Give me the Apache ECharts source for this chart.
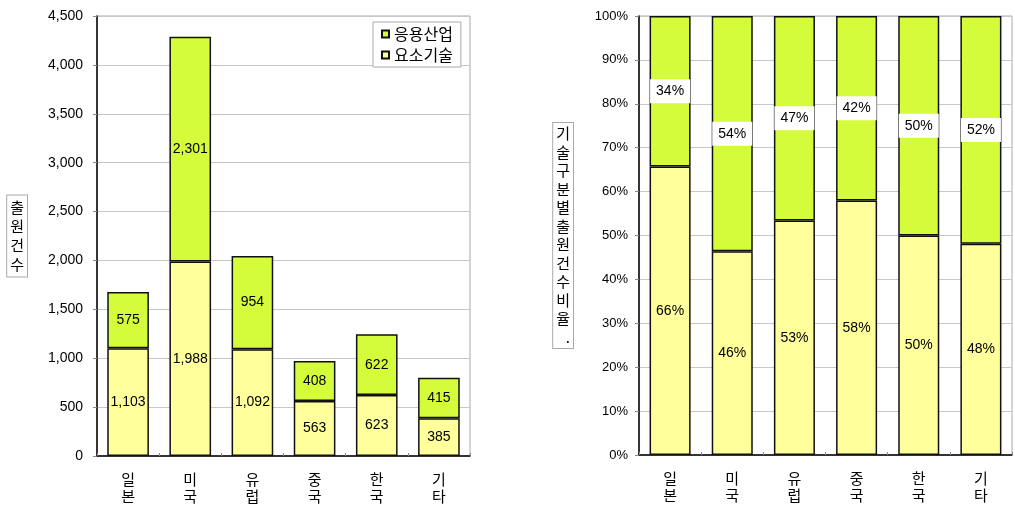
<!DOCTYPE html>
<html><head><meta charset="utf-8">
<script src="https://cdn.jsdelivr.net/npm/echarts@6/dist/echarts.min.js"></script>
<style>html,body{margin:0;padding:0;background:#fff}#c{width:1015px;height:513px}</style>
</head><body><div id="c"></div>
<script>
const categories = ['일본','미국','유럽','중국','한국','기타'];
const seriesNames = ['응용산업','요소기술'];
const elementTech = [1103,1988,1092,563,623,385];
const appIndustry = [575,2301,954,408,622,415];
const elementPct = [65.7,46.4,53.4,58.0,50.0,48.1];
const appPct = [34.3,53.6,46.6,42.0,50.0,51.9];
const countTicks = [0,500,1000,1500,2000,2500,3000,3500,4000,4500];
const pctTicks = [0,10,20,30,40,50,60,70,80,90,100];

const GREEN = '#d4fc3a', YELLOW = '#ffff9c';
const numFont = 'Liberation Sans, Arial, sans-serif';
const krFont = 'Noto Sans CJK KR, sans-serif';

const chart = echarts.init(document.getElementById('c'));
const catAxis = (gi) => ({
  type:'category', gridIndex:gi, data:categories,
  axisLine:{lineStyle:{color:'#000',width:1.5}},
  axisTick:{show:true,length:3,inside:true,lineStyle:{color:'#888'}},
  axisLabel:{formatter:v=>v.split('').join('\n'), fontFamily:krFont, fontSize:15, color:'#000', lineHeight:17, margin:15}
});
const barStyle = c => ({color:c, borderColor:'#111', borderWidth:1.5});
chart.setOption({
  animation:false,
  textStyle:{fontFamily:numFont},
  grid:[
    {left:97,right:545,top:16,bottom:57,show:true,borderColor:'#aaa',borderWidth:1,outerBoundsMode:'none',containLabel:false},
    {left:639,right:3,top:16,bottom:58,show:true,borderColor:'#aaa',borderWidth:1,outerBoundsMode:'none',containLabel:false}
  ],
  legend:{
    data:seriesNames, left:373, top:22, orient:'vertical',
    itemWidth:7, itemHeight:7, itemGap:5, icon:'rect',
    backgroundColor:'#fff', borderColor:'#aaa', borderWidth:1, padding:[4,8,4,8],
    textStyle:{fontFamily:krFont,fontSize:16,color:'#000'}
  },
  xAxis:[catAxis(0),catAxis(1)],
  yAxis:[
    {type:'value',gridIndex:0,min:countTicks[0],max:countTicks[countTicks.length-1],interval:500,
     axisLine:{show:true,lineStyle:{color:'#000',width:1.5}},axisTick:{show:true,length:4,lineStyle:{color:'#888'}},
     splitLine:{lineStyle:{color:'#c8c8c8'}},
     axisLabel:{formatter:v=>v.toLocaleString('en-US'),fontSize:14,color:'#000',margin:14,fontFamily:numFont},
     name:'출원건수'.split('').join('\n'), nameLocation:'middle', nameGap:70, nameRotate:0,
     nameTextStyle:{fontFamily:krFont,fontSize:15,color:'#000',lineHeight:19,backgroundColor:'#fff',borderColor:'#aaa',borderWidth:1,padding:[3,3,2,3]}},
    {type:'value',gridIndex:1,min:pctTicks[0],max:pctTicks[pctTicks.length-1],interval:10,
     axisLine:{show:true,lineStyle:{color:'#000',width:1.5}},axisTick:{show:true,length:4,lineStyle:{color:'#888'}},
     splitLine:{lineStyle:{color:'#c8c8c8'}},
     axisLabel:{formatter:v=>v+'%',fontSize:13,color:'#000',margin:11,fontFamily:numFont},
     name:'기술구분별출원건수비율.'.split('').join('\n'), nameLocation:'middle', nameGap:66, nameRotate:0,
     nameTextStyle:{fontFamily:krFont,fontSize:15,color:'#000',lineHeight:18.5,backgroundColor:'#fff',borderColor:'#aaa',borderWidth:1,padding:[3,3,0,3]}}
  ],
  series:[
    {name:seriesNames[1],type:'bar',stack:'a',xAxisIndex:0,yAxisIndex:0,data:elementTech,barWidth:'67%',
     itemStyle:barStyle(YELLOW),label:{show:true,position:'inside',formatter:p=>p.value.toLocaleString('en-US'),fontSize:14,color:'#000',fontFamily:numFont}},
    {name:seriesNames[0],type:'bar',stack:'a',xAxisIndex:0,yAxisIndex:0,data:appIndustry,barWidth:'67%',
     itemStyle:barStyle(GREEN),label:{show:true,position:'inside',formatter:p=>p.value.toLocaleString('en-US'),fontSize:14,color:'#000',fontFamily:numFont}},
    {name:seriesNames[1],type:'bar',stack:'b',xAxisIndex:1,yAxisIndex:1,data:elementPct,barWidth:'66%',
     itemStyle:barStyle(YELLOW),label:{show:true,position:'inside',formatter:p=>Math.round(p.value)+'%',fontSize:14,color:'#000',fontFamily:numFont}},
    {name:seriesNames[0],type:'bar',stack:'b',xAxisIndex:1,yAxisIndex:1,data:appPct,barWidth:'66%',
     itemStyle:barStyle(GREEN),label:{show:true,position:'inside',formatter:p=>Math.round(p.value)+'%',fontSize:14,color:'#000',fontFamily:numFont,backgroundColor:'#fff',padding:[5,6,5,6]}}
  ]
});
</script></body></html>
